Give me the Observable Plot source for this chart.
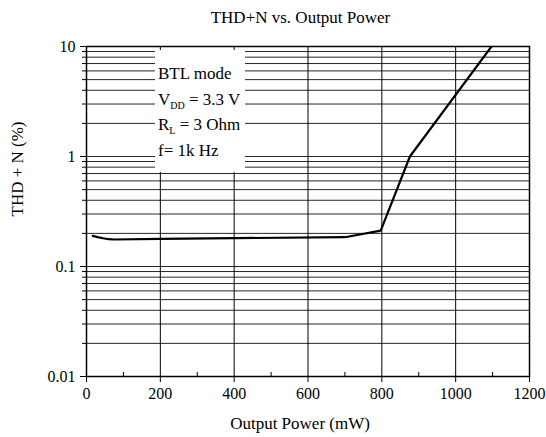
<!DOCTYPE html>
<html><head><meta charset="utf-8">
<script src="https://cdn.jsdelivr.net/npm/d3@7"></script>
<script src="https://cdn.jsdelivr.net/npm/@observablehq/plot@0.6"></script>
<style>
body{margin:0;background:#fff}
svg, svg g, svg text, svg tspan{font-family:"Liberation Serif","Times New Roman",serif !important; font-variant:normal !important; font-variant-numeric:normal !important}
</style>
</head><body><div id="chart"></div>
<script>
// Data
const power = [17, 30, 45, 60, 75, 200, 400, 700, 797, 876, 1097];
const thd   = [0.190, 0.185, 0.1805, 0.177, 0.176, 0.1786, 0.181, 0.1846, 0.212, 1.0, 10.0];

const xTicks = [0, 200, 400, 600, 800, 1000, 1200];
const xMinor = [100, 300, 500, 700, 900, 1100];
const xGrid = [200, 400, 600, 800, 1000];
const yTicks = [0.01, 0.1, 1, 10];
const yTickLabels = ["0.01", "0.1", "1", "10"];
const decades = [0.01, 0.1, 1];
const mult = [1, 2, 3, 4, 5, 6, 7, 8, 9];
const yGrid = decades.flatMap(d => mult.map(m => +(d * m).toPrecision(3))).concat([10]);
const yMinor = yGrid.filter(v => !yTicks.includes(v));

const titleText = "THD+N vs. Output Power";
const xLabel = "Output Power (mW)";
const yLabel = "THD + N (%)";
const notes = [
  {main: "BTL mode"},
  {main: "V", sub: "DD", rest: " = 3.3 V"},
  {main: "R", sub: "L", rest: " = 3 Ohm"},
  {main: "f= 1k Hz"}
];

const data = power.map((p, i) => ({p, v: thd[i]}));
const W = 546, H = 437, mt = 46, mb = 61, ml = 86, mr = 17;
const frameH = H - mt - mb;
const FONT = "Liberation Serif, Times New Roman, serif";

function noteBox(index, scales, values, dims) {
  const g = d3.create("svg:g");
  const x0 = dims.marginLeft + 69, y0 = dims.marginTop + 4;
  g.append("rect").attr("x", x0).attr("y", y0).attr("width", 90).attr("height", 122).attr("fill", "white");
  notes.forEach((l, i) => {
    const t = g.append("text").attr("x", x0 + 3).attr("y", dims.marginTop + 33 + i * 25.5)
      .attr("font-size", 17).attr("fill", "black").attr("text-anchor", "start");
    t.append("tspan").text(l.main);
    if (l.sub) {
      t.append("tspan").attr("font-size", 10).attr("dy", 4).text(l.sub);
      t.append("tspan").attr("dy", -4).text(l.rest);
    }
  });
  return g.node();
}

const plot = Plot.plot({
  width: W, height: H,
  marginTop: mt, marginBottom: mb, marginLeft: ml, marginRight: mr,
  style: {fontFamily: FONT, background: "white", color: "black"},
  x: {domain: [0, 1200]},
  y: {type: "log", domain: [0.01, 10]},
  marks: [
    Plot.ruleY(yGrid, {stroke: "#000", strokeWidth: 1, strokeOpacity: 0.85}),
    Plot.ruleX(xGrid, {stroke: "#000", strokeWidth: 1}),
    noteBox,
    Plot.tickX(xMinor, {stroke: "black", strokeWidth: 1, insetTop: frameH - 4}),
    Plot.axisX(xTicks, {tickSize: 6, tickPadding: 5, fontSize: 16, label: null, stroke: "black", tickFormat: d => String(d)}),
    Plot.axisY(yTicks, {tickSize: 6, tickPadding: 5, fontSize: 16, label: null, tickFormat: d => yTickLabels[yTicks.indexOf(d)]}),
    Plot.axisY(yMinor, {tickSize: 4, text: null, label: null}),
    Plot.frame({stroke: "black", strokeWidth: 1.5}),
    Plot.line(data, {x: "p", y: "v", stroke: "black", strokeWidth: 2.2, clip: true}),
    Plot.text([titleText], {frameAnchor: "top", dx: -7.5, dy: -23.3, lineAnchor: "bottom", fontSize: 17, fill: "black"}),
    Plot.text([xLabel], {frameAnchor: "bottom", dx: -8, dy: 52, lineAnchor: "bottom", fontSize: 17, fill: "black"}),
    Plot.text([yLabel], {frameAnchor: "left", dx: -69, dy: 5, rotate: -90, fontSize: 17, fill: "black"})
  ]
});
document.getElementById("chart").appendChild(plot);
</script>
</body></html>
